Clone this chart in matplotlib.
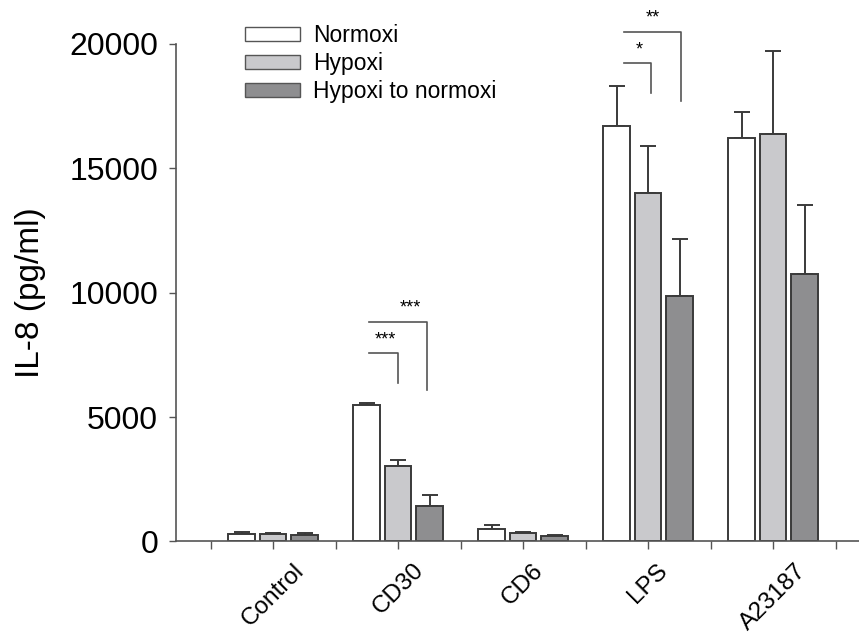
import numpy as np
import matplotlib
matplotlib.use('Agg')
import matplotlib.pyplot as plt
from matplotlib.patches import Patch

plt.rcParams['font.family'] = ['Liberation Sans', 'DejaVu Sans']

# data
groups = ['Control', 'CD30', 'CD6', 'LPS', 'A23187']
series = ['Normoxi', 'Hypoxi', 'Hypoxi to normoxi']
normoxi = [305, 5485, 490, 16690, 16210]
hypoxi = [305, 3030, 330, 14000, 16380]
hyp_norm = [270, 1420, 235, 9870, 10750]
normoxi_err = [80, 65, 185, 1630, 1070]
hypoxi_err = [45, 240, 40, 1910, 3350]
hyp_norm_err = [60, 455, 35, 2300, 2765]

values = [normoxi, hypoxi, hyp_norm]
errors = [normoxi_err, hypoxi_err, hyp_norm_err]
fills = ['#ffffff', '#c9c9cc', '#8e8e90']
edge = '#3a3a3a'

# significance brackets: (x_left, x_right, y_top, y_bottom, label, label_x, label_y)
brackets = [
    (0.77, 1.0, 7566, 6360, '***', 0.896, 7760),
    (0.77, 1.234, 8836, 6090, '***', 1.096, 9030),
    (2.808, 3.02, 19224, 18042, '*', 2.928, 19420),
    (2.808, 3.264, 20495, 17720, '**', 3.04, 20700),
]

fig = plt.figure(figsize=(8.59, 6.39), dpi=100)
ax = fig.add_axes([0.205, 0.1526, 0.795, 0.7786])

x = np.arange(len(groups))
step = 0.252
width = 0.212
for ii in range(3):
    ax.bar(x + (ii - 1)*step, values[ii], width, color=fills[ii],
           edgecolor=edge, linewidth=1.4, label=series[ii], zorder=2)
    ax.errorbar(x + (ii - 1)*step, values[ii], yerr=[np.zeros(5), errors[ii]],
                fmt='none', ecolor=edge, elinewidth=1.4, capsize=5.5,
                capthick=1.4, zorder=1)

for xl, xr, yt, yb, lab, lx, ly in brackets:
    ax.plot([xl, xr, xr], [yt, yt, yb], color='#555555', lw=1.2, clip_on=False)
    ax.text(lx, ly, lab, ha='center', va='bottom', fontsize=13, clip_on=False)

ax.set_xlim(-0.776, 4.688)
ax.set_ylim(0, 20000)
ax.set_yticks([0, 5000, 10000, 15000, 20000])
ax.tick_params(axis='y', labelsize=23, length=5, width=1, color='#555555', pad=8)

ticks = np.arange(-0.5, 4.51, 0.5)
ax.set_xticks(ticks)
ax.set_xticklabels(['' if abs(t - round(t)) > 0.1 else groups[int(round(t))] for t in ticks],
                   rotation=45, ha='center', va='top', fontsize=17.5)
ax.tick_params(axis='x', length=6, width=1, color='#555555', pad=7)

for sp in ['top', 'right']:
    ax.spines[sp].set_visible(False)
for sp in ['left', 'bottom']:
    ax.spines[sp].set_color('#555555')
    ax.spines[sp].set_linewidth(1.2)

ax.set_ylabel('IL-8 (pg/ml)', fontsize=24)
ax.yaxis.set_label_coords(-0.19, 0.5)

handles = [Patch(facecolor=fills[ii], edgecolor='#555555', linewidth=1.0) for ii in range(3)]
ax.legend(handles, series, loc='upper left', bbox_to_anchor=(0.087, 1.058),
          frameon=False, fontsize=16.5, handlelength=2.4, handleheight=0.55,
          labelspacing=0.22, handletextpad=0.6, borderaxespad=0)

fig.savefig('out.png', dpi=100)
